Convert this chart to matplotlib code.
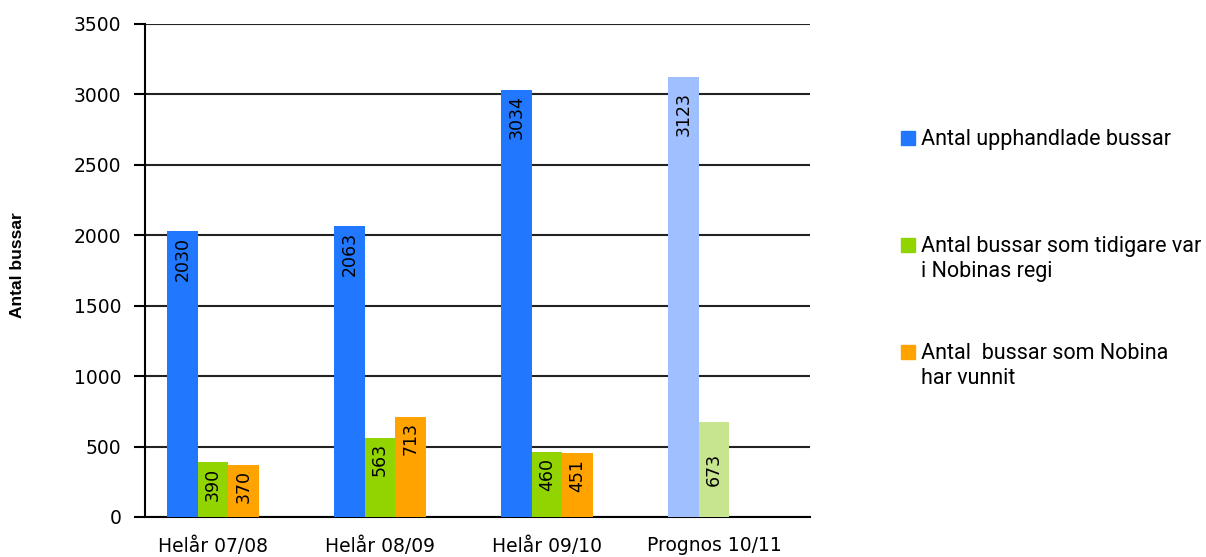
import numpy as np
import matplotlib
matplotlib.use("Agg")
import matplotlib.pyplot as plt
from matplotlib.patches import Rectangle

categories = ["Helår 07/08", "Helår 08/09", "Helår 09/10", "Prognos 10/11"]
upphandlade = [2030, 2063, 3034, 3123]
tidigare = [390, 563, 460, 673]
vunnit = [370, 713, 451, np.nan]
is_forecast = [False, False, False, True]

series_names = ["Antal upphandlade bussar",
                "Antal bussar som tidigare var\ni Nobinas regi",
                "Antal  bussar som Nobina\nhar vunnit"]
yticks = [0, 500, 1000, 1500, 2000, 2500, 3000, 3500]

colors = ["#2277FF", "#92D400", "#FFA300"]
light_colors = ["#A0BFFF", "#C6E58E", "#FFD080"]

W, H = 1206, 557
fig = plt.figure(figsize=(W / 100, H / 100), dpi=100)
ax = fig.add_axes([145 / W, 1 - 517 / H, (810 - 145) / W, (517 - 24) / H])

tick_font = "DejaVu Sans"
bw = 0.183
x = np.arange(len(categories))
all_series = [upphandlade, tidigare, vunnit]
for k, vals in enumerate(all_series):
    xs = x + (k - 1) * bw
    cols = [light_colors[k] if f else colors[k] for f in is_forecast]
    ax.bar(xs, vals, width=bw, color=cols, zorder=3, linewidth=0)
    for xi, v, f in zip(xs, vals, is_forecast):
        if np.isnan(v):
            continue
        if f and k == 1:
            ax.text(xi, v / 2, f"{int(v)}", rotation=90, ha="center", va="center",
                    fontsize=12.5, family=tick_font, zorder=5)
        else:
            off = -11 if f else -4
            ax.annotate(f"{int(v)}", (xi, v), xytext=(0, off), textcoords="offset points",
                        rotation=90, ha="center", va="top", fontsize=12.5,
                        family=tick_font, zorder=5)

ax.set_xlim(-0.407, 3.575)
ax.set_ylim(0, 3500)
ax.set_yticks(yticks)
ax.set_yticklabels([str(t) for t in yticks], fontsize=13.5, family=tick_font)
ax.set_xticks(x)
ax.set_xticklabels(categories, fontsize=13.5, family=tick_font)
ax.tick_params(axis="x", length=0, pad=14)
ax.tick_params(axis="y", length=8, width=1.5, pad=9, color="black")
ax.grid(axis="y", color="#222222", linewidth=1.5, zorder=1)
for s in ["top", "right"]:
    ax.spines[s].set_visible(False)
ax.spines["left"].set_linewidth(1.5)
ax.spines["bottom"].set_linewidth(1.5)
ax.spines["left"].set_zorder(4)

fig.text(18 / W, 1 - 265 / H, "Antal bussar", rotation=90, ha="center", va="center",
         fontsize=12.5, fontweight="bold", family="Liberation Sans")

legend_y = [138, 245, 352]
for name, col, yy in zip(series_names, colors, legend_y):
    fig.patches.append(Rectangle((901 / W, 1 - (yy + 7) / H), 14 / W, 14 / H,
                                 transform=fig.transFigure, color=col, figure=fig))
    fig.text(921 / W, 1 - (yy - 9) / H, name, ha="left", va="top", fontsize=15.5,
             family="Roboto", linespacing=1.25)

fig.savefig("out.png", dpi=100)
